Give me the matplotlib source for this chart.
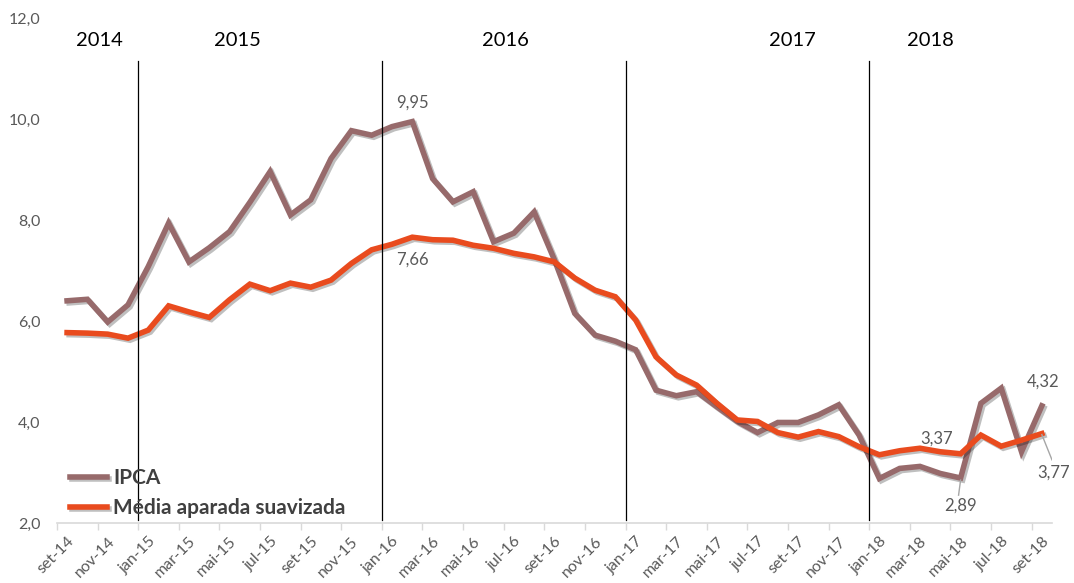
import numpy as np
import matplotlib
matplotlib.use('Agg')
import matplotlib.pyplot as plt
import matplotlib.patheffects as pe

plt.rcParams['font.family'] = ['Lato', 'DejaVu Sans']

#%% data
months = ['set-14', 'out-14', 'nov-14', 'dez-14',
          'jan-15', 'fev-15', 'mar-15', 'abr-15', 'mai-15', 'jun-15', 'jul-15', 'ago-15',
          'set-15', 'out-15', 'nov-15', 'dez-15',
          'jan-16', 'fev-16', 'mar-16', 'abr-16', 'mai-16', 'jun-16', 'jul-16', 'ago-16',
          'set-16', 'out-16', 'nov-16', 'dez-16',
          'jan-17', 'fev-17', 'mar-17', 'abr-17', 'mai-17', 'jun-17', 'jul-17', 'ago-17',
          'set-17', 'out-17', 'nov-17', 'dez-17',
          'jan-18', 'fev-18', 'mar-18', 'abr-18', 'mai-18', 'jun-18', 'jul-18', 'ago-18',
          'set-18']

ipca = [6.40, 6.43, 5.98, 6.32, 7.08, 7.94, 7.17, 7.45, 7.77, 8.35, 8.96, 8.10,
        8.40, 9.22, 9.77, 9.68, 9.85, 9.95, 8.82, 8.36, 8.56, 7.57, 7.74, 8.16,
        7.21, 6.15, 5.72, 5.60, 5.43, 4.63, 4.52, 4.60, 4.30, 4.01, 3.79, 3.99,
        3.99, 4.14, 4.34, 3.74, 2.88, 3.08, 3.12, 2.98, 2.89, 4.37, 4.67, 3.41,
        4.32]

media = [5.77, 5.76, 5.74, 5.66, 5.82, 6.30, 6.18, 6.07, 6.42, 6.73, 6.60, 6.75,
         6.67, 6.81, 7.14, 7.41, 7.52, 7.66, 7.61, 7.60, 7.50, 7.44, 7.34, 7.27,
         7.17, 6.85, 6.61, 6.48, 6.02, 5.29, 4.93, 4.73, 4.37, 4.04, 4.01, 3.79,
         3.70, 3.81, 3.71, 3.51, 3.35, 3.43, 3.48, 3.41, 3.37, 3.74, 3.52, 3.64,
         3.77]

years = ['2014', '2015', '2016', '2017', '2018']
year_pos = [1.6, 8.4, 21.6, 35.7, 42.5]
year_breaks = [3.5, 15.5, 27.5, 39.5]

c_ipca = '#976a6b'
c_media = '#e94b1e'
c_txt = '#595959'

#%% plot
fig = plt.figure(figsize=(10.74, 5.83), dpi=100)
ax = fig.add_axes([0.053, 0.103, 0.9265, 0.866])
x = np.arange(len(months))

shadow = [pe.SimpleLineShadow(offset=(1.5, -1.5), alpha=0.25), pe.Normal()]
ax.plot(x, ipca, color=c_ipca, lw=4, label='IPCA', path_effects=shadow,
        solid_joinstyle='miter')
ax.plot(x, media, color=c_media, lw=4, label='Média aparada suavizada',
        path_effects=shadow, solid_joinstyle='miter')

for b in year_breaks:
    ax.axvline(b, ymin=0.005, ymax=0.915, color='black', lw=0.9)
for y, p in zip(years, year_pos):
    ax.text(p, 11.55, y, ha='center', va='center', fontsize=14.5, color='black')

# value labels
ax.text(17, 10.32, '9,95', ha='center', va='center', fontsize=12, color=c_txt)
ax.text(17, 7.22, '7,66', ha='center', va='center', fontsize=12, color=c_txt)
ax.text(42.8, 3.68, '3,37', ha='center', va='center', fontsize=12, color=c_txt)
ax.text(44, 2.35, '2,89', ha='center', va='center', fontsize=12, color=c_txt)
ax.text(48.05, 4.79, '4,32', ha='center', va='center', fontsize=12, color=c_txt)
ax.text(48.6, 3.0, '3,77', ha='center', va='center', fontsize=12, color=c_txt)
ax.plot([44, 43.9], [2.85, 2.55], color='#a6a6a6', lw=1)
ax.plot([48, 48.5], [3.75, 3.25], color='#a6a6a6', lw=1)

ax.set_xlim(-0.5, 48.5)
ax.set_ylim(2, 12)
ax.set_yticks(np.arange(2, 12.1, 2))
ax.set_yticklabels([('%.1f' % v).replace('.', ',') for v in np.arange(2, 12.1, 2)])
ax.tick_params(axis='y', length=0, pad=12, labelsize=11.5, labelcolor=c_txt)

ax.set_xticks(x[::2])
ax.set_xticklabels(months[::2], rotation=45, ha='right', rotation_mode='anchor')
ax.set_xticks(np.arange(-0.5, 48.6, 2), minor=True)
ax.tick_params(axis='x', which='major', length=0, pad=8, labelsize=11.5, labelcolor=c_txt)
ax.tick_params(axis='x', which='minor', length=5, color='#d9d9d9', width=1)

for s in ['top', 'right', 'left']:
    ax.spines[s].set_visible(False)
ax.spines['bottom'].set_color('#d9d9d9')
ax.spines['bottom'].set_linewidth(1.2)

leg = ax.legend(loc='lower left', bbox_to_anchor=(-0.006, -0.028), frameon=False,
                prop={'weight': 'bold', 'size': 15}, handlelength=1.8,
                handletextpad=0.3, labelspacing=0.5)
for t in leg.get_texts():
    t.set_color('#404040')

fig.savefig('out.png', dpi=100)
